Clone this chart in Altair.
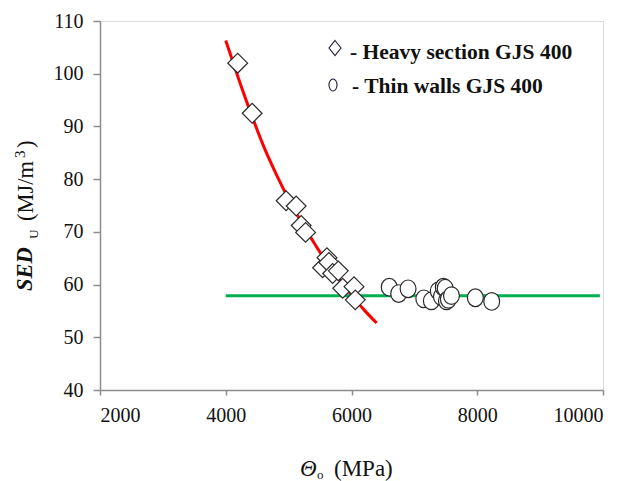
import altair as alt
import pandas as pd

# ---------------- data ----------------
heavy_x = [4190, 4420, 4960, 5120, 5200, 5270, 5540, 5610, 5640, 5700, 5790, 5860, 6040, 6060]
heavy_y = [102.0, 92.5, 75.9, 74.9, 71.2, 69.9, 63.2, 65.1, 64.2, 62.1, 62.6, 59.3, 59.6, 57.1]

thin_x = [6600, 6750, 6900, 7150, 7270, 7380, 7430, 7460, 7490, 7510, 7540, 7590, 7970, 8230]
thin_y = [59.5, 58.3, 59.2, 57.3, 56.9, 58.8, 57.7, 59.5, 59.3, 56.9, 57.2, 57.9, 57.5, 56.8]

fit_x = [4000, 4200, 4400, 4600, 4800, 5000, 5200, 5400, 5600, 5800, 6000, 6200, 6400]
fit_y = [106.3, 99.2, 92.5, 86.3, 81.0, 76.2, 71.9, 68.0, 64.3, 61.0, 58.0, 55.2, 52.7]

limit_x = [4000, 9950]
limit_y = [57.9, 57.9]

x_ticks = [2000, 4000, 6000, 8000, 10000]
y_ticks = [40, 50, 60, 70, 80, 90, 100, 110]

legend_labels = ["- Heavy section GJS 400", "- Thin walls GJS 400"]
y_title_parts = ["SED", "U", "(MJ/m", "3", ")"]
x_title_parts = ["Θ", "o", "(MPa)"]

W, H = 503, 369
GRAY = "#8c8c8c"
SERIF = "Liberation Serif, Times New Roman, DejaVu Serif, serif"

xs = alt.Scale(domain=[2000, 10000], nice=False, zero=False)
ys = alt.Scale(domain=[40, 110], nice=False, zero=False)

x_axis = alt.Axis(values=x_ticks, format="d", title=None, grid=False, tickSize=5,
                  labelPadding=10, labelFont=SERIF, labelFontSize=20, labelColor="#111",
                  domainColor=GRAY, tickColor=GRAY, domainWidth=1.5, tickWidth=1.5)
y_axis = alt.Axis(values=y_ticks, format="d", title=None, grid=False, tickSize=7,
                  labelPadding=10, labelFont=SERIF, labelFontSize=20, labelColor="#111",
                  domainColor=GRAY, tickColor=GRAY, domainWidth=1.5, tickWidth=1.5)

X = alt.X("x:Q", scale=xs, axis=x_axis)
Y = alt.Y("y:Q", scale=ys, axis=y_axis)

fit = alt.Chart(pd.DataFrame({"x": fit_x, "y": fit_y})).mark_line(
    color="#ff0000", strokeWidth=3, interpolate="monotone").encode(x=X, y=Y)

limit = alt.Chart(pd.DataFrame({"x": limit_x, "y": limit_y})).mark_line(
    color="#00b050", strokeWidth=3).encode(x=X, y=Y)

heavy = alt.Chart(pd.DataFrame({"x": heavy_x, "y": heavy_y})).mark_point(
    shape="diamond", filled=True, fill="white", stroke="#2a2a2a", strokeWidth=1.2,
    size=390, opacity=1).encode(x=X, y=Y)

thin = alt.Chart(pd.DataFrame({"x": thin_x, "y": thin_y})).mark_point(
    shape="M0,-1A0.9,1 0 1,1 0,1A0.9,1 0 1,1 0,-1Z", filled=True, fill="white",
    stroke="#2a2a2a", strokeWidth=1.2, size=310, opacity=1).encode(x=X, y=Y)


def txt(t, x, y, size, weight="normal", style="normal", angle=0, align="left", baseline="middle"):
    kw = dict(font=SERIF, fontSize=size, fontWeight=weight, fontStyle=style,
              align=align, baseline=baseline, color="#111")
    if angle:
        kw["angle"] = angle
    return alt.Chart(pd.DataFrame({"t": [t]})).mark_text(**kw).encode(
        text="t:N", x=alt.value(x), y=alt.value(y))


def sym(path, x, y, size):
    return alt.Chart(pd.DataFrame({"t": [0]})).mark_point(
        shape=path, filled=False, stroke="#1c1c3c", strokeWidth=1.1, size=size, opacity=1
    ).encode(x=alt.value(x), y=alt.value(y))


legend = [
    sym("M0,-1L0.8,0L0,1L-0.8,0Z", 235, 27, 225),
    txt(legend_labels[0], 250, 32, 21.5, weight="bold"),
    sym("M0,-1A0.67,1 0 1,1 0,1A0.67,1 0 1,1 0,-1Z", 233, 64, 144),
    txt(legend_labels[1], 252, 66, 21.5, weight="bold"),
]

y_title = [
    txt(y_title_parts[0], -75, 270, 22.5, weight="bold", style="italic", angle=270),
    txt(y_title_parts[1], -66, 213, 13, angle=270, align="center"),
    txt(y_title_parts[2], -74, 200, 22.5, angle=270),
    txt(y_title_parts[3], -80, 137, 15, angle=270),
    txt(y_title_parts[4], -74, 127, 22.5, angle=270),
]

x_title = [
    txt(x_title_parts[0], 200, 448, 23, style="italic"),
    txt(x_title_parts[1], 217, 454, 13),
    txt(x_title_parts[2], 234, 448, 23),
]

chart = alt.layer(fit, limit, heavy, thin, *legend, *y_title, *x_title).properties(
    width=W, height=H,
    autosize=alt.AutoSizeParams(type="none"),
    padding={"left": 100, "top": 21, "right": 37, "bottom": 91},
).configure_view(stroke=GRAY, strokeWidth=1.5).configure(background="white")

chart.save("out.html", embed_options={"renderer": "svg", "actions": False})
